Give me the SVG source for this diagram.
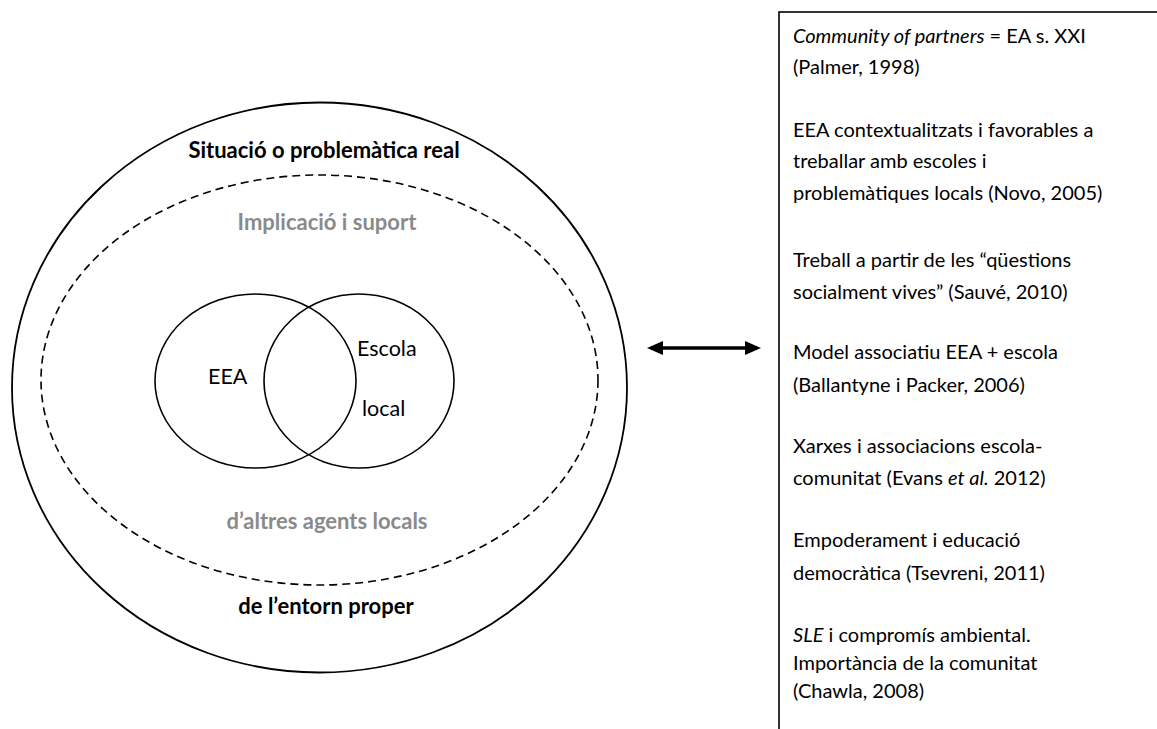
<svg xmlns="http://www.w3.org/2000/svg" width="1157" height="729" viewBox="0 0 1157 729">
  <style>
    .ring { fill: none; stroke: #000; stroke-width: 1.8; }
    .dash { fill: none; stroke: #000; stroke-width: 1.6; stroke-dasharray: 8 5; }
    .venn { fill: none; stroke: #000; stroke-width: 1.6; }
    .lbl { font-family: Lato, "Open Sans", sans-serif; font-size: 21.5px; fill: #000; }
    .bold { font-weight: bold; font-size: 22px; }
    .grey { fill: #8a8a8a; }
    .mid { text-anchor: middle; }
    .box { fill: none; stroke: #000; stroke-width: 1.6; }
    .note { font-family: Lato, "Open Sans", sans-serif; font-size: 20px; fill: #000; }
  </style>
  <defs>
    <marker id="head" viewBox="0 0 16 14" refX="2" refY="7" markerWidth="16" markerHeight="14" markerUnits="userSpaceOnUse" orient="auto-start-reverse">
      <path d="M0,0 L16,7 L0,14 Z" fill="#000"/>
    </marker>
  </defs>
  <rect width="1157" height="729" fill="#fff"/>

  <!-- concentric context rings -->
  <g id="context">
    <ellipse class="ring" cx="319.5" cy="387.5" rx="307.5" ry="285"/>
    <text class="lbl bold mid" x="324" y="158">Situació o problemàtica real</text>
    <text class="lbl bold mid" x="326" y="614">de l’entorn proper</text>
  </g>

  <g id="support">
    <ellipse class="dash" cx="319.5" cy="380" rx="278.5" ry="205"/>
    <text class="lbl bold grey mid" x="327" y="230">Implicació i suport</text>
    <text class="lbl bold grey mid" x="327" y="529">d’altres agents locals</text>
  </g>

  <g id="eea">
    <ellipse class="venn" cx="255.5" cy="381" rx="100.5" ry="87"/>
    <text class="lbl" x="208" y="384">EEA</text>
  </g>

  <g id="escola">
    <ellipse class="venn" cx="359" cy="381" rx="95" ry="87"/>
    <text class="lbl" x="357" y="356">Escola</text>
    <text class="lbl" x="362" y="416">local</text>
  </g>

  <!-- two-way link between the model and the references -->
  <g id="connectors">
    <line x1="661" y1="348" x2="747" y2="348" stroke="#000" stroke-width="3.5" marker-start="url(#head)" marker-end="url(#head)"/>
  </g>

  <g id="references">
    <rect class="box" x="779" y="12" width="420" height="760"/>
    <text class="note" x="793" y="43"><tspan font-style="italic">Community of partners</tspan> = EA s. XXI</text>
    <text class="note" x="793" y="74">(Palmer, 1998)</text>
    <text class="note" x="793" y="137">EEA contextualitzats i favorables a</text>
    <text class="note" x="793" y="168">treballar amb escoles i</text>
    <text class="note" x="793" y="200">problemàtiques locals (Novo, 2005)</text>
    <text class="note" x="793" y="267">Treball a partir de les “qüestions</text>
    <text class="note" x="793" y="299">socialment vives” (Sauvé, 2010)</text>
    <text class="note" x="793" y="359">Model associatiu EEA + escola</text>
    <text class="note" x="793" y="392">(Ballantyne i Packer, 2006)</text>
    <text class="note" x="793" y="453">Xarxes i associacions escola-</text>
    <text class="note" x="793" y="485">comunitat (Evans <tspan font-style="italic">et al.</tspan> 2012)</text>
    <text class="note" x="793" y="547">Empoderament i educació</text>
    <text class="note" x="793" y="580">democràtica (Tsevreni, 2011)</text>
    <text class="note" x="793" y="642"><tspan font-style="italic">SLE</tspan> i compromís ambiental.</text>
    <text class="note" x="793" y="670">Importància de la comunitat</text>
    <text class="note" x="793" y="698">(Chawla, 2008)</text>
  </g>
</svg>
